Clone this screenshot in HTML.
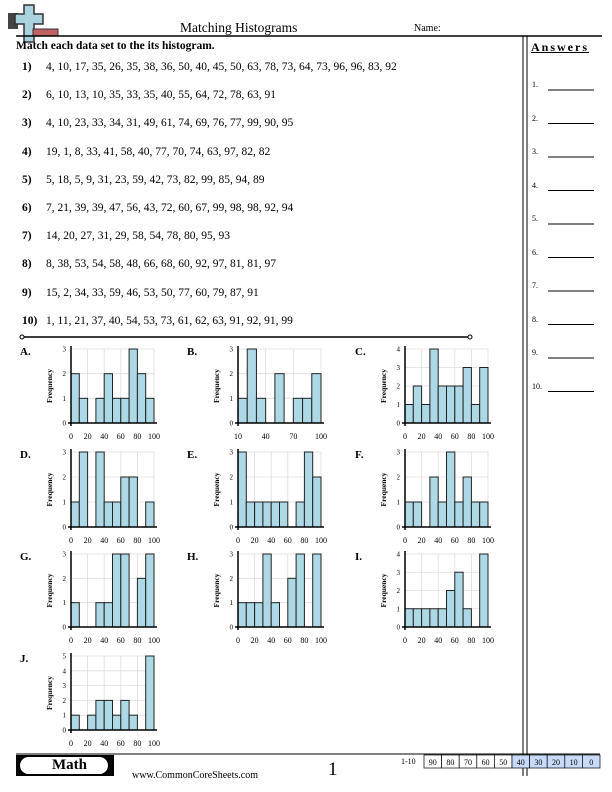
<!DOCTYPE html>
<html><head><style>
body{margin:0;width:612px;height:792px;position:relative;background:#fff;font-family:"Liberation Serif",serif;overflow:hidden}
.a{position:absolute;white-space:nowrap}
.q{position:absolute;left:22px;font-size:11.5px}
.q b{display:inline-block;width:24px}
</style></head><body>
<svg class="a" style="left:0;top:0" width="612" height="792">
<rect x="8" y="13" width="10" height="16" fill="#444"/>
<path d="M24 5h10v9h9v10h-9v18h-10v-18h-9v-10h9z" fill="#a8d3df" stroke="#333" stroke-width="1.5"/>
<rect x="33" y="29" width="25" height="7" fill="#c06060" stroke="#333" stroke-width="1"/>
<line x1="16" y1="36" x2="602" y2="36" stroke="#000" stroke-width="1.5"/>
<line x1="523" y1="36" x2="523" y2="776" stroke="#000" stroke-width="1"/>
<line x1="527" y1="36" x2="527" y2="776" stroke="#000" stroke-width="1"/>
<line x1="16" y1="754" x2="600" y2="754" stroke="#000" stroke-width="1"/>
<line x1="22" y1="337" x2="470" y2="337" stroke="#000" stroke-width="1.5"/>
<circle cx="22" cy="337" r="2" fill="#fff" stroke="#000"/><circle cx="470" cy="337" r="2" fill="#fff" stroke="#000"/>
<rect x="16" y="755" width="98" height="21" fill="#000"/>
<rect x="20" y="757" width="88" height="17" rx="8.5" fill="#fff"/>
<g id="ans"></g><g id="charts"></g><g id="score"></g>
</svg>
<div class="a" style="left:180px;top:20px;font-size:13.5px">Matching Histograms</div>
<div class="a" style="left:414px;top:23px;font-size:10px">Name:</div>
<div class="a" style="left:16px;top:40px;font-size:11.5px;font-weight:bold">Match each data set to the its histogram.</div>
<div class="a" style="left:531px;top:40px;font-size:12px;font-weight:bold;letter-spacing:2px;text-decoration:underline">Answers</div>
<div class="a" style="left:52px;top:757px;font-size:15px;font-weight:bold">Math</div>
<div class="a" style="left:132px;top:770px;font-size:10px">www.CommonCoreSheets.com</div>
<div class="a" style="left:328px;top:759px;font-size:19px">1</div>
<div class="a" style="left:401px;top:757px;font-size:8px">1-10</div>
<div id="qs"></div>
<script>
var qs=["4, 10, 17, 35, 26, 35, 38, 36, 50, 40, 45, 50, 63, 78, 73, 64, 73, 96, 96, 83, 92","6, 10, 13, 10, 35, 33, 35, 40, 55, 64, 72, 78, 63, 91","4, 10, 23, 33, 34, 31, 49, 61, 74, 69, 76, 77, 99, 90, 95","19, 1, 8, 33, 41, 58, 40, 77, 70, 74, 63, 97, 82, 82","5, 18, 5, 9, 31, 23, 59, 42, 73, 82, 99, 85, 94, 89","7, 21, 39, 39, 47, 56, 43, 72, 60, 67, 99, 98, 98, 92, 94","14, 20, 27, 31, 29, 58, 54, 78, 80, 95, 93","8, 38, 53, 54, 58, 48, 66, 68, 60, 92, 97, 81, 81, 97","15, 2, 34, 33, 59, 46, 53, 50, 77, 60, 79, 87, 91","1, 11, 21, 37, 40, 54, 53, 73, 61, 62, 63, 91, 92, 91, 99"];
var h="";qs.forEach(function(s,i){h+='<div class="q" style="top:'+(61+i*28.2)+'px"><b>'+(i+1)+')</b>'+s+'</div>';});
for(var i=0;i<10;i++)h+='<div class="a" style="left:532px;top:'+(80+i*33.5)+'px;font-size:8px">'+(i+1)+'.</div>';
document.getElementById('qs').innerHTML=h;
var NS='http://www.w3.org/2000/svg';
function el(p,t,a,tx){var e=document.createElementNS(NS,t);for(var k in a)e.setAttribute(k,a[k]);if(tx!=null)e.textContent=tx;p.appendChild(e);return e;}
var an=document.getElementById('ans');
for(var i=0;i<10;i++)el(an,'line',{x1:548,x2:594,y1:90+i*33.5,y2:90+i*33.5,stroke:'#000','stroke-width':1});
var sc=document.getElementById('score');
['90','80','70','60','50','40','30','20','10','0'].forEach(function(t,i){var x=424+i*17.6;el(sc,'rect',{x:x,y:755,width:17.6,height:13,fill:i>=5?'#c9daf8':'#fff',stroke:'#000','stroke-width':0.7});el(sc,'text',{x:x+8.8,y:765,'font-size':8,'text-anchor':'middle','font-family':'Liberation Serif'},t);});
var C=[["A",[2,1,0,1,2,1,1,3,2,1],3],["B",[1,3,1,0,2,0,1,1,2],3],["C",[1,2,1,4,2,2,2,3,1,3],4],["D",[1,3,0,3,1,1,2,2,0,1],3],["E",[3,1,1,1,1,1,0,1,3,2],3],["F",[1,1,0,2,1,3,1,2,1,1],3],["G",[1,0,0,1,1,3,3,0,2,3],3],["H",[1,1,1,3,1,0,2,3,0,3],3],["I",[1,1,1,1,1,2,3,1,0,4],4],["J",[1,0,1,2,2,1,2,1,0,5],5]];
var XS=[71,238,405],YT=[349,452,554,656],YB=[423,527,627,730],LX=[20,187,355];
var g=document.getElementById('charts');
C.forEach(function(c,k){var col=k%3,row=Math.floor(k/3);var x0=XS[col],W=83,yt=YT[row],yb=YB[row],m=c[2],H=yb-yt;
el(g,'text',{x:LX[col],y:yt+6,'font-size':11,'font-weight':'bold','font-family':'Liberation Serif'},c[0]+'.');
var n=c[1].length,bw=W/n;
var xt=n==9?[[0,'10'],[3,'40'],[6,'70'],[9,'100']]:[[0,'0'],[2,'20'],[4,'40'],[6,'60'],[8,'80'],[10,'100']];
xt.forEach(function(t){var x=x0+t[0]*bw;el(g,'line',{x1:x,x2:x,y1:yt,y2:yb,stroke:'#ddd','stroke-width':0.8});el(g,'text',{x:x,y:yb+16,'font-size':8,'text-anchor':'middle','font-family':'Liberation Serif'},t[1]);});
for(var v=0;v<=m;v++){var y=yb-v*H/m;el(g,'line',{x1:x0,x2:x0+W,y1:y,y2:y,stroke:'#ddd','stroke-width':0.8});el(g,'text',{x:x0-5,y:y+2.5,'font-size':7,'text-anchor':'end','font-family':'Liberation Serif'},v);}
c[1].forEach(function(v,i){if(v>0)el(g,'rect',{x:x0+i*bw,y:yb-v*H/m,width:bw,height:v*H/m,fill:'#add8e6',stroke:'#222','stroke-width':1});});
el(g,'line',{x1:x0,x2:x0,y1:yt-3,y2:yb+3,stroke:'#000','stroke-width':1.5});
el(g,'line',{x1:x0-3,x2:x0+W+3,y1:yb,y2:yb,stroke:'#000','stroke-width':1.5});
var fy=(yt+yb)/2;el(g,'text',{x:0,y:0,'font-size':7.5,'font-weight':'bold','text-anchor':'middle','font-family':'Liberation Serif',transform:'translate('+(x0-19)+','+fy+') rotate(-90)'},'Frequency');
});
</script>
</body></html>
